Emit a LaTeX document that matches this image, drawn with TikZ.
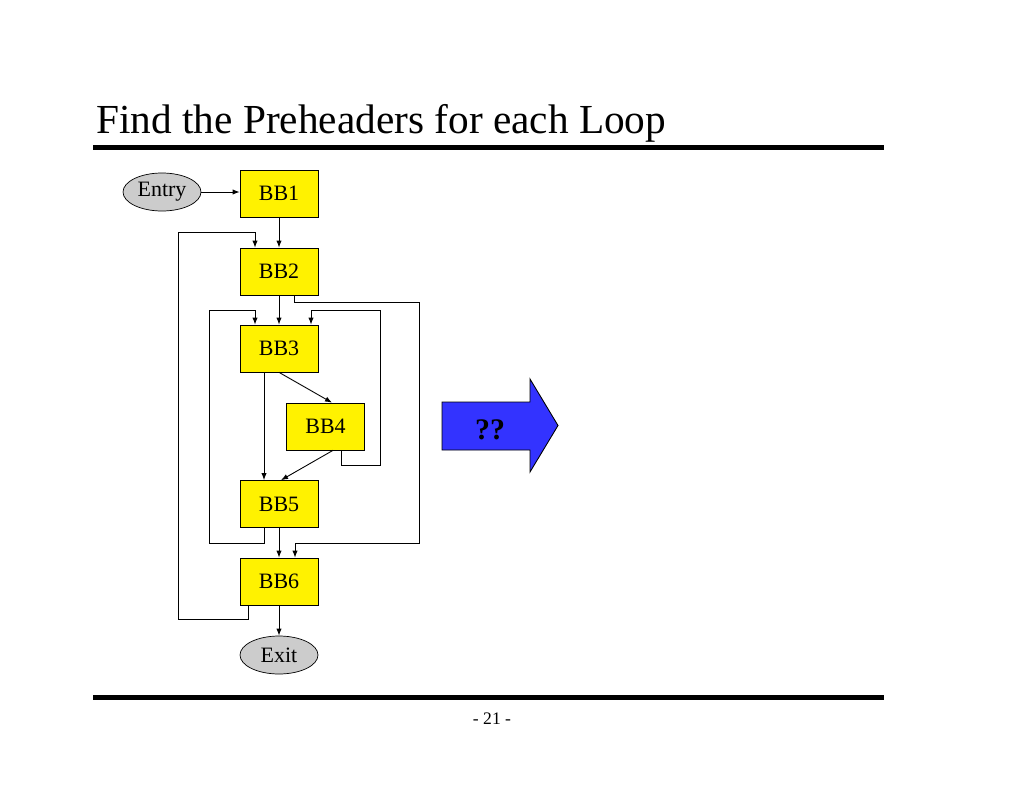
\documentclass[tikz,border=0pt]{standalone}
\usepackage{fontspec}
\setmainfont{Liberation Serif}
\usepackage{tikz}
\usetikzlibrary{shapes.geometric,arrows.meta,calc}

\begin{document}
\begin{tikzpicture}
[x=0.02cm,y=-0.02cm,
  bbDecorate/.style={shape=rectangle,draw,fill=yellow,minimum width=1.56cm,minimum height=0.94cm,inner sep=0pt,font=\fontsize{12.5}{15}\selectfont},%
  termDecorate/.style={shape=ellipse,draw,fill=gray!40,minimum width=1.56cm,minimum height=0.76cm,inner sep=0pt,font=\fontsize{12.5}{15}\selectfont},%
  lineDecorate/.style={-{Latex[length=4pt,width=3pt]},line width=0.5pt},%
  ruleDecorate/.style={line width=0.09cm}]
\useasboundingbox (0,0) rectangle (1024,791);
%% title and rules
\node[anchor=base west,inner sep=0pt,font=\fontsize{23.5}{28}\selectfont] (title) at (96,133) {Find the Preheaders for each Loop};
\draw[ruleDecorate] (93,147.5) -- (884,147.5);
\draw[ruleDecorate] (93,697.5) -- (884,697.5);
\node[anchor=base,inner sep=0pt,font=\fontsize{10}{12}\selectfont] (page) at (492,724) {- 21 -};
%% nodes or vertices
\foreach \nodename/\x/\y/\nodetext in {bb1/279/193.5/BB1, bb2/279/271.5/BB2, bb3/279/348.5/BB3,
  bb4/325.5/426.5/BB4, bb5/279/504/BB5, bb6/279/581.5/BB6} {
  \node (\nodename) at (\x,\y) [bbDecorate] {\nodetext};
}
\node (entry) at (162,192) [termDecorate] {Entry};
\node (exit) at (279,655) [termDecorate] {Exit};
%% edges or lines
\path
\foreach \startnode/\endnode in {bb1/bb2, bb2/bb3, bb5/bb6, bb6/exit} {
  (\startnode) edge[lineDecorate] (\endnode)
};
\draw[lineDecorate] (entry.east) -- (entry.east -| bb1.west);
\draw[lineDecorate] (bb3.south) -- ($(bb4.north)+(6.5,0)$);
\draw[lineDecorate] ($(bb3.south)+(-15,0)$) -- ($(bb5.north)+(-15,0)$);
\draw[lineDecorate] ($(bb4.south)+(7.5,0)$) -- ($(bb5.north)+(2,0)$);
%% back edges
\draw[lineDecorate] ($(bb6.south)+(-31,0)$) -- ++(0,14) -| (178,232) -| ($(bb2.north)+(-24,0)$);
\draw[lineDecorate] ($(bb5.south)+(-15,0)$) -- ++(0,16) -| (209,310) -| ($(bb3.north)+(-24,0)$);
\draw[lineDecorate] ($(bb4.south)+(15.5,0)$) -- ++(0,15) -| (380,310) -| ($(bb3.north)+(32,0)$);
\draw[lineDecorate] ($(bb2.south)+(15,0)$) -- ++(0,7) -| (419,543) -| ($(bb6.north)+(16,0)$);
%% big arrow
\draw[fill=blue!80,line width=0.5pt] (442,402) -- (530,402) -- (530,379) -- (558,425.5)
  -- (530,472) -- (530,450) -- (442,450) -- cycle;
\node[font=\fontsize{17}{20}\selectfont\bfseries] (ask) at (490,430) {??};
\end{tikzpicture}
\end{document}
